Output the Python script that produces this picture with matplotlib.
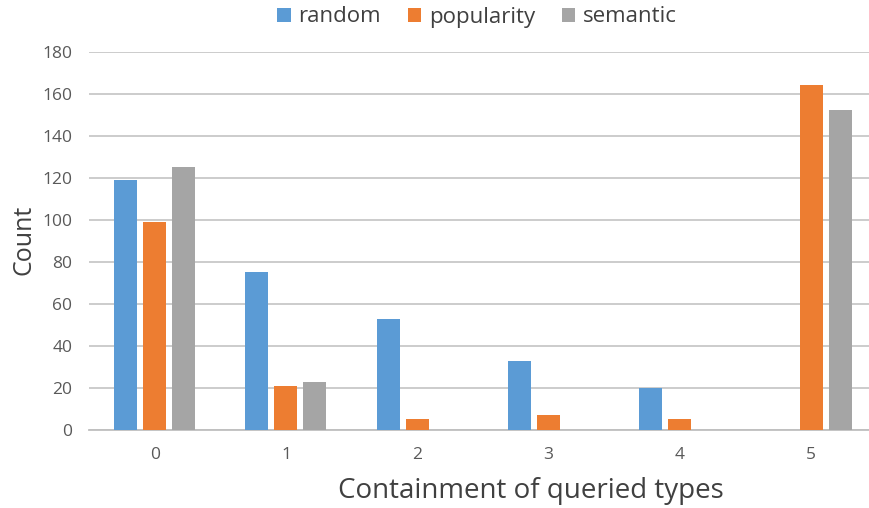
import numpy as np
import matplotlib.pyplot as plt

# Counts per containment level for each sampling strategy
levels = [0, 1, 2, 3, 4, 5]
random_counts = [119, 75, 53, 33, 20, 0]
popularity_counts = [99, 21, 5, 7, 5, 164]
semantic_counts = [125, 23, 0, 0, 0, 152]

series = [
    ("random", random_counts, "#5B9BD5"),
    ("popularity", popularity_counts, "#ED7D31"),
    ("semantic", semantic_counts, "#A5A5A5"),
]

plt.rcParams.update({
    "font.family": ["Open Sans", "DejaVu Sans"],
})

fig = plt.figure(figsize=(8.7, 5.08), dpi=100)
ax = fig.add_axes([89 / 870, 1 - 430 / 508, 1 - 89 / 870, (430 - 51.5) / 508])

x = np.arange(len(levels))
width = 0.175
offset = 0.221

for i, (name, vals, color) in enumerate(series):
    ax.bar(x + (i - 1) * offset, vals, width, color=color, label=name, zorder=3)

ax.set_ylim(0, 180)
ax.set_xlim(-0.5, 5.448)
ax.set_yticks(range(0, 181, 20))
ax.set_xticks(x)
ax.set_xticklabels([str(v) for v in levels])

ax.yaxis.grid(True, color="#C8C8C8", linewidth=1.3, zorder=0)
ax.set_axisbelow(True)
for side in ["top", "right", "left"]:
    ax.spines[side].set_visible(False)
ax.spines["bottom"].set_color("#BFBFBF")
ax.spines["bottom"].set_linewidth(1.3)

ax.tick_params(axis="both", length=0, labelsize=12.5, labelcolor="#595959")
ax.tick_params(axis="x", pad=12)
ax.tick_params(axis="y", pad=12)

ax.set_ylabel("Count", fontsize=18, color="#404040", ha="center", va="center")
ax.yaxis.set_label_coords(-0.083, 0.502)
ax.set_xlabel("Containment of queried types", fontsize=20, color="#404040",
              ha="center", va="center")
ax.xaxis.set_label_coords(0.566, -0.16)

fig.legend(
    loc="center",
    bbox_to_anchor=(477 / 870, 1 - 17 / 508),
    ncol=3,
    frameon=False,
    fontsize=16,
    handlelength=0.6,
    handleheight=0.6,
    handletextpad=0.35,
    columnspacing=1.2,
    labelcolor="#404040",
)

fig.savefig("out.png", dpi=100, facecolor="white")
